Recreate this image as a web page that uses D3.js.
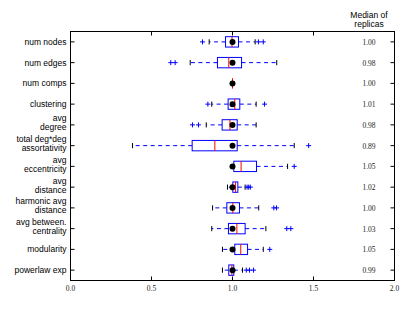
<!DOCTYPE html>
<html>
<head>
<meta charset="utf-8">
<script src="https://cdn.jsdelivr.net/npm/d3@7"></script>
<style>
  body { margin: 0; background: #fff; }
  .lab { font-family: "Liberation Sans", Arial, sans-serif; font-size: 8.5px; fill: #000; }
  .num { font-family: "Liberation Serif", "DejaVu Serif", serif; font-size: 7.5px; fill: #222; }
</style>
</head>
<body>
<script>
// measures, top to bottom
var labels = ["num nodes", "num edges", "num comps", "clustering", "avg\ndegree",
  "total deg*deg\nassortativity", "avg\neccentricity", "avg\ndistance",
  "harmonic avg\ndistance", "avg between.\ncentrality", "modularity", "powerlaw exp"];
var medianText = ["1.00", "0.98", "1.00", "1.01", "0.98", "0.89", "1.05", "1.02", "1.00", "1.03", "1.05", "0.99"];

// box stats (ratio to original)
var whiskLo = [0.856, 0.739, 1.0, 0.872, 0.838, 0.383, 1.008, 0.969, 0.877, 0.872, 0.938, 0.938];
var q1      = [0.957, 0.907, 1.0, 0.973, 0.936, 0.751, 1.008, 1.002, 0.965, 0.975, 1.014, 0.977];
var median  = [0.997, 0.977, 1.0, 1.014, 0.984, 0.891, 1.053, 1.019, 1.002, 1.027, 1.051, 0.996];
var q3      = [1.037, 1.056, 1.0, 1.045, 1.029, 1.029, 1.148, 1.033, 1.043, 1.078, 1.093, 1.008];
var whiskHi = [1.140, 1.273, 1.0, 1.146, 1.146, 1.381, 1.340, 1.078, 1.162, 1.206, 1.190, 1.062];
var fliers  = [[0.815, 1.16, 1.19], [0.619, 0.646], [], [0.848, 1.198], [0.753, 0.79], [1.47],
  [1.381], [1.09, 1.10, 1.11], [1.255, 1.272], [1.335, 1.36], [1.23], [1.085, 1.105, 1.13]];
var original = [1, 1, 1, 1, 1, 1, 1, 1, 1, 1, 1, 1];
var xTicks = [0, 0.5, 1.0, 1.5, 2.0];

var W = 415, H = 312;
var margin = {left: 70.5, right: 394.5, top: 31.5, bottom: 280.5};

var x = d3.scaleLinear().domain([0, 2]).range([margin.left, margin.right]);
var y = d3.scaleLinear().domain([0.5, 12.5]).range([margin.top, margin.bottom]);
var boxH = y(1) - y(0.5);   // box width 0.5 of a row

var svg = d3.select("body").append("svg")
  .attr("width", W).attr("height", H);

svg.append("rect").attr("width", W).attr("height", H).attr("fill", "#fff");

var rows = d3.range(labels.length);

var g = svg.selectAll(".row").data(rows).enter().append("g")
  .attr("class", "row")
  .attr("transform", function(i) { return "translate(0," + y(i + 1) + ")"; });

// whiskers
g.append("line")
  .attr("x1", function(i) { return x(q1[i]); })
  .attr("x2", function(i) { return x(whiskLo[i]); })
  .attr("stroke", "#0000ff").attr("stroke-dasharray", "4,3.5");
g.append("line")
  .attr("x1", function(i) { return x(q3[i]); })
  .attr("x2", function(i) { return x(whiskHi[i]); })
  .attr("stroke", "#0000ff").attr("stroke-dasharray", "4,3.5");

// caps
g.selectAll(".cap").data(function(i) { return [whiskLo[i], whiskHi[i]]; })
  .enter().append("line")
  .attr("x1", function(d) { return x(d); }).attr("x2", function(d) { return x(d); })
  .attr("y1", -boxH / 4).attr("y2", boxH / 4)
  .attr("stroke", "#000");

// box
g.append("rect")
  .attr("x", function(i) { return x(q1[i]); })
  .attr("width", function(i) { return x(q3[i]) - x(q1[i]); })
  .attr("y", -boxH / 2).attr("height", boxH)
  .attr("fill", "none").attr("stroke", "#0000ff");

// median
g.append("line")
  .attr("x1", function(i) { return x(median[i]); })
  .attr("x2", function(i) { return x(median[i]); })
  .attr("y1", -boxH / 2).attr("y2", boxH / 2)
  .attr("stroke", "#ff0000");

// fliers
g.selectAll(".flier").data(function(i) { return fliers[i]; })
  .enter().append("path")
  .attr("d", function(d) {
    var cx = x(d);
    return "M" + (cx - 2.5) + ",0H" + (cx + 2.5) + "M" + cx + ",-2.5V2.5";
  })
  .attr("stroke", "#0000ff").attr("fill", "none");

// original value
g.append("circle")
  .attr("cx", function(i) { return x(original[i]); })
  .attr("r", 3)
  .attr("fill", "#000");

// frame
svg.append("rect")
  .attr("x", margin.left).attr("y", margin.top)
  .attr("width", margin.right - margin.left).attr("height", margin.bottom - margin.top)
  .attr("fill", "none").attr("stroke", "#000");

// x ticks (inward, top and bottom)
xTicks.forEach(function(t) {
  svg.append("line").attr("x1", x(t)).attr("x2", x(t))
    .attr("y1", margin.bottom).attr("y2", margin.bottom - 4).attr("stroke", "#000");
  svg.append("line").attr("x1", x(t)).attr("x2", x(t))
    .attr("y1", margin.top).attr("y2", margin.top + 4).attr("stroke", "#000");
  svg.append("text").attr("class", "num")
    .attr("x", x(t)).attr("y", margin.bottom + 10)
    .attr("text-anchor", "middle")
    .text(d3.format(".1f")(t));
});

// y ticks both sides
g.append("line").attr("x1", margin.left).attr("x2", margin.left + 4).attr("stroke", "#000");
g.append("line").attr("x1", margin.right).attr("x2", margin.right - 4).attr("stroke", "#000");

// left labels
g.each(function(i) {
  var lines = labels[i].split("\n");
  var t = d3.select(this).append("text").attr("class", "lab")
    .attr("text-anchor", "end");
  if (lines.length == 1) {
    t.append("tspan").attr("x", margin.left - 4).attr("y", 3).text(lines[0]);
  } else {
    t.append("tspan").attr("x", margin.left - 4).attr("y", -3.5).text(lines[0]);
    t.append("tspan").attr("x", margin.left - 4).attr("y", 5.5).text(lines[1]);
  }
});

// right median column
g.append("text").attr("class", "num")
  .attr("x", 369).attr("y", 3)
  .attr("text-anchor", "middle")
  .text(function(i) { return medianText[i]; });

svg.append("text").attr("class", "lab")
  .attr("x", 369).attr("y", 17.5).attr("text-anchor", "middle")
  .text("Median of");
svg.append("text").attr("class", "lab")
  .attr("x", 369).attr("y", 26.5).attr("text-anchor", "middle")
  .text("replicas");
</script>
</body>
</html>
